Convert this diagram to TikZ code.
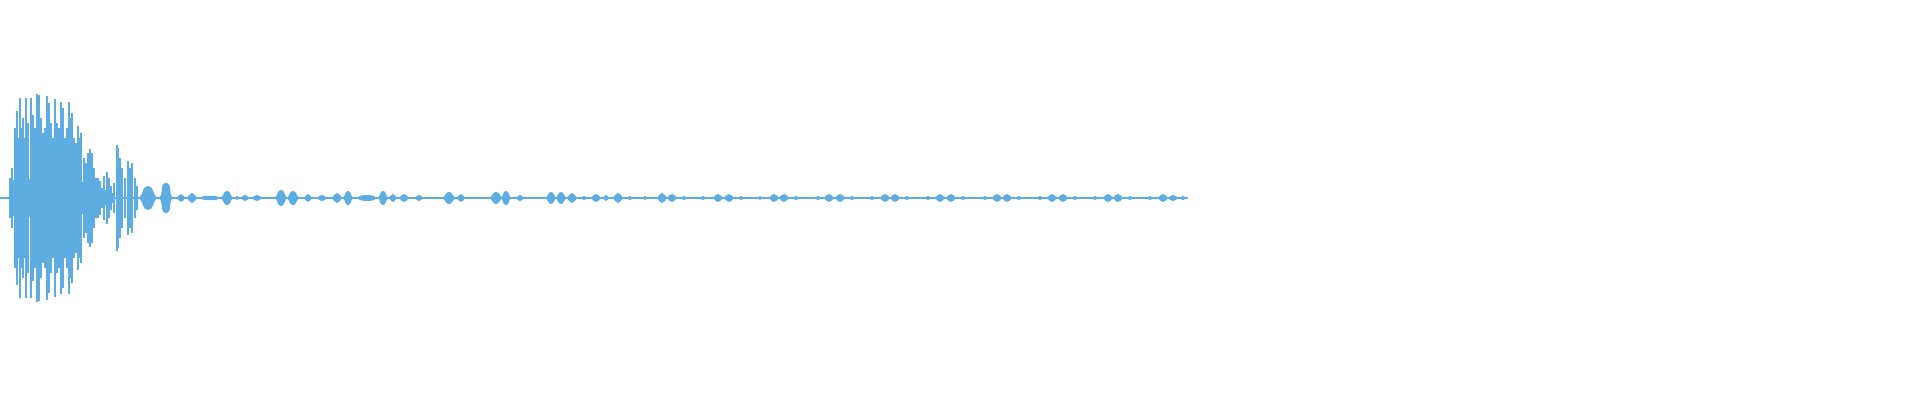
\documentclass[tikz,border=0pt]{standalone}
\usepackage{xcolor}
\definecolor{wave}{RGB}{93,173,226}

\begin{document}
\begin{tikzpicture}[x=0.01cm,y=0.01cm]
            \useasboundingbox (0,-202) rectangle (1920,198);
            \tikzset{spike/.style={wave,line width=0.6pt},
                     lobe/.style={fill=wave,draw=none}}

            % base line
            \draw[wave,line width=0.35pt] (0,0) -- (1188,0);

            % core band of the attack
            \fill[wave] (10,0) -- (12,-18) -- (70,-20) -- (95,-12) -- (115,-4) -- (115,4) -- (95,12) -- (70,20) -- (12,18) -- cycle;

            % spikes
            \foreach \x/\h in {10/20,12/30,15/70,17/87,19/60,20/100,22/70,23/80,25/60,26/100,28/75,31/100,33/83,35/70,37/104,39/103,41/80,43/65,45/70,47/102,49/95,51/75,53/60,55/99,57/75,59/70,61/96,63/90,65/60,67/70,69/96,71/80,72/85,74/60,76/55,78/72,80/60,81/65,84/40,86/35,88/45,90/49,92/45,94/30,96/20,98/20,100/17,102/10,104/22,107/26,109/20,111/12,114/15,117/53,118/50,120/40,122/30,125/20,128/37,130/30,132/35,135/20,137/12}
                \draw[spike] (\x,-\h) -- (\x,\h);

            % lobes
            \foreach \x/\w/\h in {148/9/12,166/7/15,181/4/4,192/5/5,210/10/2,227/6/7,237/2/2,245/4/3,257/5/3,281/6/8,293/6/7,308/4/4,322/5/3,337/5/5,348/5/7,367/10/3,383/5/7,393/4/4,404/5/4,419/4/3,449/6/6,461/4/4,496/6/6,506/5/7,520/4/3,551/5/6,561/5/6,572/5/5,584/3/2,596/5/4,606/3/3,618/5/5,630/3/2,645/2/2,662/5/5,672/5/4,684/3/2,703/3/2,718/5/4,729/5/4,741/3/2,760/2/2,774/5/4,784/5/4,796/3/2,818/3/2,829/5/4,840/5/4,852/3/2,872/3/2,885/5/4,895/5/4,907/3/2,928/3/2,940/5/4,951/5/4,963/3/2,985/3/2,997/5/4,1007/5/4,1019/3/2,1040/3/2,1052/5/4,1063/5/4,1075/3/2,1095/3/2,1108/5/4,1118/5/4,1130/3/2,1150/3/2,1163/5/4,1173/5/3,1183/3/2}
                \fill[lobe] (\x-\w,0) to[out=40,in=180] (\x,\h) to[out=0,in=140] (\x+\w,0)
                    to[out=-140,in=0] (\x,-\h) to[out=180,in=-40] cycle;
        \end{tikzpicture}
\end{document}
